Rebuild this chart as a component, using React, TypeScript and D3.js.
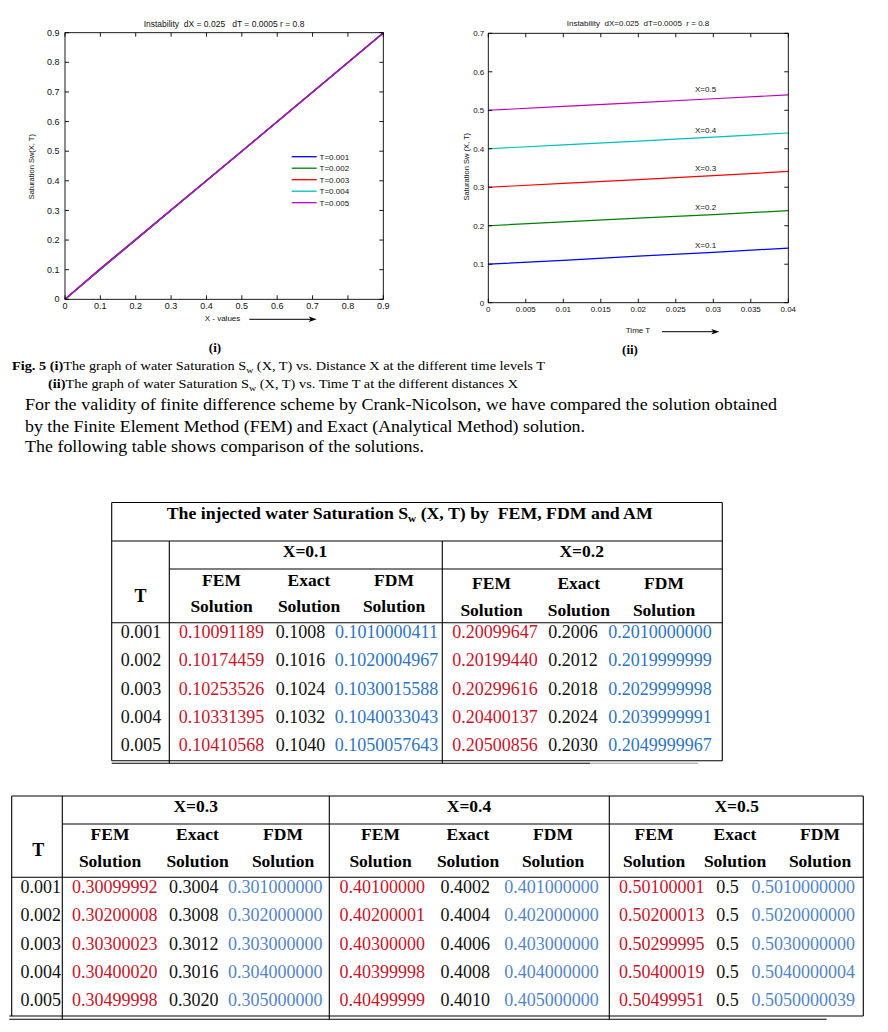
import React from "react";
import * as d3 from "d3";

// ---------------- Chart (i) data ----------------
const xValues = [0, 0.1, 0.2, 0.3, 0.4, 0.5, 0.6, 0.7, 0.8, 0.9];
const swT001 = [0, 0.1008, 0.2006, 0.3004, 0.4002, 0.5, 0.5999, 0.6997, 0.7995, 0.8993];
const swT002 = [0, 0.1016, 0.2012, 0.3008, 0.4004, 0.5, 0.5998, 0.6995, 0.7992, 0.8990];
const swT003 = [0, 0.1024, 0.2018, 0.3012, 0.4006, 0.5, 0.5997, 0.6994, 0.7994, 0.8995];
const swT004 = [0, 0.1032, 0.2024, 0.3016, 0.4008, 0.5, 0.5996, 0.6993, 0.7996, 0.8998];
const swT005 = [0, 0.1040, 0.2030, 0.3020, 0.4010, 0.5, 0.5995, 0.6992, 0.7998, 0.9000];
const legendLabels = ["T=0.001", "T=0.002", "T=0.003", "T=0.004", "T=0.005"];
const chart1Ticks = [0, 0.1, 0.2, 0.3, 0.4, 0.5, 0.6, 0.7, 0.8, 0.9];
const chart1TickLabels = ["0", "0.1", "0.2", "0.3", "0.4", "0.5", "0.6", "0.7", "0.8", "0.9"];

// ---------------- Chart (ii) data ----------------
const timeValues = [0, 0.01, 0.02, 0.03, 0.04];
const swX01 = [0.100, 0.110, 0.121, 0.131, 0.142];
const swX02 = [0.200, 0.210, 0.220, 0.229, 0.239];
const swX03 = [0.300, 0.310, 0.320, 0.330, 0.341];
const swX04 = [0.400, 0.410, 0.420, 0.430, 0.441];
const swX05 = [0.500, 0.510, 0.520, 0.530, 0.540];
const lineLabels = ["X=0.1", "X=0.2", "X=0.3", "X=0.4", "X=0.5"];
const chart2XTicks = [0, 0.005, 0.01, 0.015, 0.02, 0.025, 0.03, 0.035, 0.04];
const chart2XTickLabels = ["0", "0.005", "0.01", "0.015", "0.02", "0.025", "0.03", "0.035", "0.04"];
const chart2YTicks = [0, 0.1, 0.2, 0.3, 0.4, 0.5, 0.6, 0.7];
const chart2YTickLabels = ["0", "0.1", "0.2", "0.3", "0.4", "0.5", "0.6", "0.7"];

// ---------------- Table data ----------------
const tLevels = ["0.001", "0.002", "0.003", "0.004", "0.005"];
const femX01 = ["0.10091189", "0.10174459", "0.10253526", "0.10331395", "0.10410568"];
const exactX01 = ["0.1008", "0.1016", "0.1024", "0.1032", "0.1040"];
const fdmX01 = ["0.1010000411", "0.1020004967", "0.1030015588", "0.1040033043", "0.1050057643"];
const femX02 = ["0.20099647", "0.20199440", "0.20299616", "0.20400137", "0.20500856"];
const exactX02 = ["0.2006", "0.2012", "0.2018", "0.2024", "0.2030"];
const fdmX02 = ["0.2010000000", "0.2019999999", "0.2029999998", "0.2039999991", "0.2049999967"];
const femX03 = ["0.30099992", "0.30200008", "0.30300023", "0.30400020", "0.30499998"];
const exactX03 = ["0.3004", "0.3008", "0.3012", "0.3016", "0.3020"];
const fdmX03 = ["0.301000000", "0.302000000", "0.303000000", "0.304000000", "0.305000000"];
const femX04 = ["0.40100000", "0.40200001", "0.40300000", "0.40399998", "0.40499999"];
const exactX04 = ["0.4002", "0.4004", "0.4006", "0.4008", "0.4010"];
const fdmX04 = ["0.401000000", "0.402000000", "0.403000000", "0.404000000", "0.405000000"];
const femX05 = ["0.50100001", "0.50200013", "0.50299995", "0.50400019", "0.50499951"];
const exactX05 = ["0.5", "0.5", "0.5", "0.5", "0.5"];
const fdmX05 = ["0.5010000000", "0.5020000000", "0.5030000000", "0.5040000004", "0.5050000039"];

const SERIF = '"Liberation Serif","Times New Roman",Times,serif';
const SANS = '"Liberation Sans",Arial,Helvetica,sans-serif';
const RED = "#c8142b";
const BLUE1 = "#2e74c4";
const BLUE2 = "#5385c8";

function Frame({ x, y, xTicks, xLabels, yTicks, yLabels, fs, xLabBase, yLabX }: any) {
  const [x0, x1] = x.range();
  const [y0, y1] = y.range();
  const tl = 4;
  return (
    <g>
      <rect x={x0} y={y1} width={x1 - x0} height={y0 - y1} fill="none" stroke="#000" strokeWidth={0.9} />
      {xTicks.map((t: number, i: number) => (
        <g key={"xt" + i}>
          <line x1={x(t)} x2={x(t)} y1={y0} y2={y0 - tl} stroke="#000" strokeWidth={0.9} />
          <line x1={x(t)} x2={x(t)} y1={y1} y2={y1 + tl} stroke="#000" strokeWidth={0.9} />
          <text x={x(t)} y={xLabBase} fontSize={fs} fontFamily={SANS} textAnchor="middle" fill="#111">{xLabels[i]}</text>
        </g>
      ))}
      {yTicks.map((t: number, i: number) => (
        <g key={"yt" + i}>
          <line x1={x0} x2={x0 + tl} y1={y(t)} y2={y(t)} stroke="#000" strokeWidth={0.9} />
          <line x1={x1} x2={x1 - tl} y1={y(t)} y2={y(t)} stroke="#000" strokeWidth={0.9} />
          <text x={yLabX} y={y(t)} dy="0.35em" fontSize={fs} fontFamily={SANS} textAnchor="end" fill="#111">{yLabels[i]}</text>
        </g>
      ))}
    </g>
  );
}

function Arrow({ xa, xb, yv }: any) {
  return (
    <g>
      <line x1={xa} x2={xb - 5} y1={yv} y2={yv} stroke="#000" strokeWidth={1} />
      <polygon points={`${xb},${yv} ${xb - 8},${yv - 2.8} ${xb - 6},${yv} ${xb - 8},${yv + 2.8}`} fill="#000" />
    </g>
  );
}

export default function App() {
  // Chart (i)
  const x1 = d3.scaleLinear().domain([0, 0.9]).range([65, 383.3]);
  const y1 = d3.scaleLinear().domain([0, 0.9]).range([299.3, 32.7]);
  const c1Series = [swT001, swT002, swT003, swT004, swT005];
  const c1Colors = ["#0000ff", "#008000", "#ff0000", "#00bfbf", "#bf00bf"];
  const line1 = d3.line<number>().x((_, i) => x1(xValues[i])).y((d) => y1(d));

  // Chart (ii)
  const x2 = d3.scaleLinear().domain([0, 0.04]).range([488.3, 788.3]);
  const y2 = d3.scaleLinear().domain([0, 0.7]).range([302.7, 33.3]);
  const c2Series = [swX01, swX02, swX03, swX04, swX05];
  const c2Colors = ["#0000ff", "#008000", "#ff0000", "#00bfbf", "#bf00bf"];
  const line2 = d3.line<number>().x((_, i) => x2(timeValues[i])).y((d) => y2(d));
  const c2LabelY = [245.3, 207, 168.3, 130, 89.3];

  // Tables
  const row1 = d3.scaleLinear().domain([0, 4]).range([638.3, 750.7]);
  const row2 = d3.scaleLinear().domain([0, 4]).range([893.3, 1005.7]);

  const table1Groups = [
    { label: "X=0.1", cx: 305, fem: femX01, exact: exactX01, fdm: fdmX01, hx: [221.5, 309, 394], dx: [221.5, 300.4, 386.5], hy: [585.7, 611.7] },
    { label: "X=0.2", cx: 581.7, fem: femX02, exact: exactX02, fdm: fdmX02, hx: [491.5, 578.8, 664], dx: [495, 573, 660], hy: [589, 615.7] },
  ];
  const table2Groups = [
    { label: "X=0.3", cx: 195.7, fem: femX03, exact: exactX03, fdm: fdmX03, hx: [110, 197.5, 283], dx: [114.7, 193.7, 275.3], hy: [840, 867.3] },
    { label: "X=0.4", cx: 469, fem: femX04, exact: exactX04, fdm: fdmX04, hx: [380.5, 468, 553], dx: [382.2, 465.3, 551.5], hy: [840, 867.3] },
    { label: "X=0.5", cx: 736.7, fem: femX05, exact: exactX05, fdm: fdmX05, hx: [654, 735, 820], dx: [661.7, 727.5, 803.3], hy: [840, 867.3] },
  ];

  const headerCells = (g: any, key: string, xy: number) => (
    <g key={key}>
      <text x={g.cx} y={xy} textAnchor="middle" fontFamily={SERIF} fontWeight="bold" fontSize={17.5} fill="#000">{g.label}</text>
      {["FEM", "Exact", "FDM"].map((h, i) => (
        <g key={h}>
          <text x={g.hx[i]} y={g.hy[0]} textAnchor="middle" fontFamily={SERIF} fontWeight="bold" fontSize={17.5} fill="#000">{h}</text>
          <text x={g.hx[i]} y={g.hy[1]} textAnchor="middle" fontFamily={SERIF} fontWeight="bold" fontSize={17.5} fill="#000">Solution</text>
        </g>
      ))}
    </g>
  );

  const dataCells = (g: any, key: string, row: any, blue: string) => (
    <g key={key}>
      {tLevels.map((_, r) => (
        <g key={r}>
          <text x={g.dx[0]} y={row(r)} textAnchor="middle" fontFamily={SERIF} fontSize={18} fill={RED}>{g.fem[r]}</text>
          <text x={g.dx[1]} y={row(r)} textAnchor="middle" fontFamily={SERIF} fontSize={18} fill="#111">{g.exact[r]}</text>
          <text x={g.dx[2]} y={row(r)} textAnchor="middle" fontFamily={SERIF} fontSize={18} fill={blue}>{g.fdm[r]}</text>
        </g>
      ))}
    </g>
  );

  const pre: any = { whiteSpace: "pre" };

  return (
    <svg width={888} height={1032} style={{ position: "absolute", left: 0, top: 0, background: "#fff" }}>
      <rect x={0} y={0} width={888} height={1032} fill="#fff" />

      {/* ---------- Chart (i) ---------- */}
      <text x={224} y={26.7} textAnchor="middle" fontFamily={SANS} fontSize={8.5} fill="#111" style={pre}>
        {"Instability  dX = 0.025   dT = 0.0005 r = 0.8"}
      </text>
      {c1Series.map((s, i) => (
        <path key={i} d={line1(s) || ""} fill="none" stroke={c1Colors[i]} strokeWidth={1.3} />
      ))}
      <Frame x={x1} y={y1} xTicks={chart1Ticks} xLabels={chart1TickLabels} yTicks={chart1Ticks} yLabels={chart1TickLabels} fs={9} xLabBase={308.5} yLabX={59.5} />
      {legendLabels.map((l, i) => {
        const yy = 156.7 + i * 11.5;
        return (
          <g key={l}>
            <line x1={291.7} x2={316.7} y1={yy} y2={yy} stroke={c1Colors[i]} strokeWidth={1.3} />
            <text x={319.5} y={yy} dy="0.35em" fontFamily={SANS} fontSize={8} fill="#111">{l}</text>
          </g>
        );
      })}
      <text x={222.5} y={320.7} textAnchor="middle" fontFamily={SANS} fontSize={8} fill="#111">X - values</text>
      <Arrow xa={249.3} xb={316.7} yv={319.3} />
      <text transform="translate(33.5,166.7) rotate(-90)" textAnchor="middle" fontFamily={SANS} fontSize={7.5} fill="#111">Saturation Sw(X, T)</text>

      {/* ---------- Chart (ii) ---------- */}
      <text x={638} y={26} textAnchor="middle" fontFamily={SANS} fontSize={8} fill="#111" style={pre}>
        {"Instability  dX=0.025  dT=0.0005  r = 0.8"}
      </text>
      {c2Series.map((s, i) => (
        <path key={i} d={line2(s) || ""} fill="none" stroke={c2Colors[i]} strokeWidth={1.2} />
      ))}
      <Frame x={x2} y={y2} xTicks={chart2XTicks} xLabels={chart2XTickLabels} yTicks={chart2YTicks} yLabels={chart2YTickLabels} fs={8} xLabBase={312} yLabX={484.3} />
      {lineLabels.map((l, i) => (
        <text key={l} x={695} y={c2LabelY[i]} dy="0.35em" fontFamily={SANS} fontSize={8} fill="#111">{l}</text>
      ))}
      <text x={638} y={332.7} textAnchor="middle" fontFamily={SANS} fontSize={8} fill="#111">Time T</text>
      <Arrow xa={662} xb={719.3} yv={331.7} />
      <text transform="translate(468.5,166.7) rotate(-90)" textAnchor="middle" fontFamily={SANS} fontSize={7.5} fill="#111">Saturation Sw (X, T)</text>

      {/* ---------- Captions ---------- */}
      <text x={215} y={352} textAnchor="middle" fontFamily={SERIF} fontWeight="bold" fontSize={13} fill="#000">(i)</text>
      <text x={630} y={354} textAnchor="middle" fontFamily={SERIF} fontWeight="bold" fontSize={13} fill="#000">(ii)</text>
      <text x={12} y={370} fontFamily={SERIF} fontSize={13} fill="#000" textLength={533} lengthAdjust="spacingAndGlyphs" style={pre}>
        <tspan fontWeight="bold">{"Fig. 5 (i)"}</tspan>
        <tspan>{"The graph of water Saturation S"}</tspan>
        <tspan fontSize={9} dy={3}>w</tspan>
        <tspan dy={-3}>{" (X, T) vs. Distance X at the different time levels T"}</tspan>
      </text>
      <text x={48} y={388} fontFamily={SERIF} fontSize={13} fill="#000" textLength={470} lengthAdjust="spacingAndGlyphs" style={pre}>
        <tspan fontWeight="bold">{"(ii)"}</tspan>
        <tspan>{"The graph of water Saturation S"}</tspan>
        <tspan fontSize={9} dy={3}>w</tspan>
        <tspan dy={-3}>{" (X, T) vs. Time T at the different distances X"}</tspan>
      </text>

      {/* ---------- Paragraph ---------- */}
      <text x={25} y={410} fontFamily={SERIF} fontSize={17.5} fill="#000" textLength={752} lengthAdjust="spacingAndGlyphs">
        For the validity of finite difference scheme by Crank-Nicolson, we have compared the solution obtained
      </text>
      <text x={25} y={432} fontFamily={SERIF} fontSize={17.5} fill="#000" textLength={560} lengthAdjust="spacingAndGlyphs">
        by the Finite Element Method (FEM) and Exact (Analytical Method) solution.
      </text>
      <text x={25} y={452} fontFamily={SERIF} fontSize={17} fill="#000" textLength={399} lengthAdjust="spacingAndGlyphs">
        The following table shows comparison of the solutions.
      </text>

      {/* ---------- Table 1 ---------- */}
      <g stroke="#000" strokeWidth={1.1}>
        <line x1={111.7} x2={722.3} y1={502.5} y2={502.5} />
        <line x1={111.7} x2={722.3} y1={541} y2={541} />
        <line x1={169.3} x2={722.3} y1={569} y2={569} />
        <line x1={111.7} x2={722.3} y1={622.7} y2={622.7} />
        <line x1={111.7} x2={722.3} y1={760.7} y2={760.7} />
        <line x1={111.7} x2={590} y1={763.3} y2={763.3} />
        <line x1={111.7} x2={111.7} y1={502.5} y2={760.7} />
        <line x1={722.3} x2={722.3} y1={502.5} y2={760.7} />
        <line x1={169.3} x2={169.3} y1={541} y2={763.3} />
        <line x1={442.3} x2={442.3} y1={541} y2={763.3} />
      </g>
      <line x1={590} x2={698} y1={763.3} y2={763.3} stroke="#999" strokeWidth={1.1} />
      <text x={166.7} y={519} fontFamily={SERIF} fontWeight="bold" fontSize={17.5} fill="#000" textLength={486} lengthAdjust="spacingAndGlyphs" style={pre}>
        <tspan>{"The injected water Saturation S"}</tspan>
        <tspan fontSize={11} dy={3}>w</tspan>
        <tspan dy={-3}>{" (X, T) by  FEM, FDM and AM"}</tspan>
      </text>
      <text x={140.5} y={601.7} textAnchor="middle" fontFamily={SERIF} fontWeight="bold" fontSize={18} fill="#000">T</text>
      {table1Groups.map((g, i) => headerCells(g, "h1" + i, 556.7))}
      {tLevels.map((t, r) => (
        <text key={t} x={141} y={row1(r)} textAnchor="middle" fontFamily={SERIF} fontSize={18} fill="#111">{t}</text>
      ))}
      {table1Groups.map((g, i) => dataCells(g, "d1" + i, row1, BLUE1))}

      {/* ---------- Table 2 ---------- */}
      <g stroke="#000" strokeWidth={1.1}>
        <line x1={11.7} x2={863.3} y1={796} y2={796} />
        <line x1={62.3} x2={863.3} y1={824} y2={824} />
        <line x1={11.7} x2={863.3} y1={877.3} y2={877.3} />
        <line x1={9.3} x2={863.3} y1={1016} y2={1016} />
        <line x1={9.3} x2={826.7} y1={1019.3} y2={1019.3} />
        <line x1={11.7} x2={11.7} y1={796} y2={1016} />
        <line x1={62.3} x2={62.3} y1={796} y2={1019.3} />
        <line x1={329.3} x2={329.3} y1={796} y2={1019.3} />
        <line x1={609.3} x2={609.3} y1={796} y2={1019.3} />
        <line x1={863.3} x2={863.3} y1={796} y2={1016} />
      </g>
      <text x={38.3} y={856} textAnchor="middle" fontFamily={SERIF} fontWeight="bold" fontSize={18} fill="#000">T</text>
      {table2Groups.map((g, i) => headerCells(g, "h2" + i, 811.7))}
      {tLevels.map((t, r) => (
        <text key={t} x={61} y={row2(r)} textAnchor="end" fontFamily={SERIF} fontSize={18} fill="#111">{t}</text>
      ))}
      {table2Groups.map((g, i) => dataCells(g, "d2" + i, row2, BLUE2))}
    </svg>
  );
}
